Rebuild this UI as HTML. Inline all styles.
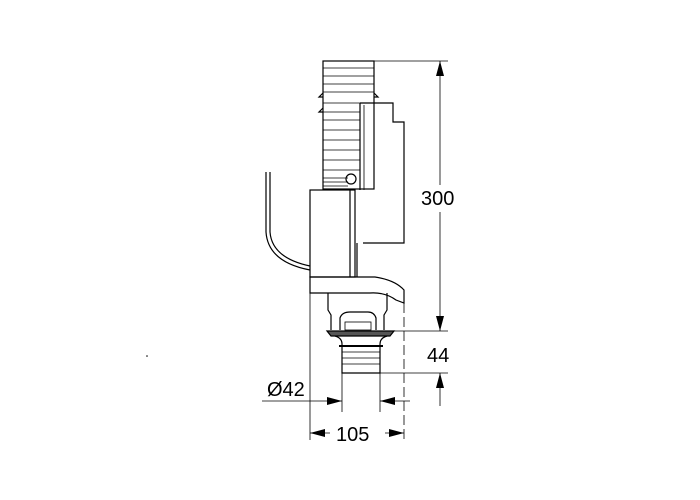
<!DOCTYPE html>
<html><head><style>body{margin:0;background:#fff}svg{display:block}</style></head><body>
<svg width="700" height="500" viewBox="0 0 700 500" xmlns="http://www.w3.org/2000/svg" font-family="Liberation Sans, sans-serif">
<g fill="none" stroke="#000" stroke-width="1.2">
<!-- top pipe -->
<rect x="323" y="61" width="51" height="128"/>
<g stroke-width="0.8">
<line x1="323" y1="68" x2="374" y2="68"/><line x1="323" y1="76" x2="374" y2="76"/><line x1="323" y1="84" x2="374" y2="84"/>
<line x1="323" y1="92" x2="374" y2="92"/><line x1="323" y1="103" x2="360" y2="103"/><line x1="323" y1="112" x2="360" y2="112"/>
<line x1="323" y1="120" x2="360" y2="120"/><line x1="323" y1="130" x2="360" y2="130"/><line x1="323" y1="140" x2="360" y2="140"/>
<line x1="323" y1="150" x2="360" y2="150"/><line x1="323" y1="160" x2="360" y2="160"/><line x1="323" y1="170" x2="360" y2="170"/>
<line x1="323" y1="178" x2="348" y2="178"/><line x1="323" y1="182" x2="348" y2="182"/><line x1="323" y1="186" x2="348" y2="186"/>
</g>
<path d="M323 93 l-4 4 h4 M374 93 l4 4 h-4 M323 108 l-4 4 h4"/>
<circle cx="351" cy="179" r="5"/>
<!-- right box -->
<path d="M360 103 H393 V122 H404 V243 H363 M360 103 V190"/>
<line x1="364" y1="105" x2="364" y2="190" stroke-width="0.8"/>
<!-- lower box -->
<rect x="310" y="190" width="45" height="87" fill="#fff"/>
<line x1="350" y1="190" x2="350" y2="277"/>
<line x1="357" y1="243" x2="357" y2="277"/>
<!-- wire -->
<path d="M266 172 V232 Q268 262 310 270 M270 172 V232 Q272 258 310 266"/>
<!-- base -->
<path d="M310 277 H375 Q395 280 404 290 V303 L396 300 Q385 292 370 293 H310 Z"/>
<!-- lower part -->
<path d="M328 293 V310 L331 315 V330 M387 293 V310 L384 315 V330"/>
<path d="M340 330 V318 Q342 312 350 312 H368 Q374 312 376 318 V330"/>
<rect x="345" y="322" width="26" height="8" stroke-width="0.8"/>
<path d="M327 331 H394 L390 336 H331 Z" fill="#555"/>
<path d="M335 336 Q342 338 342 344 V373 H380 V344 Q380 338 387 336"/>
<line x1="339" y1="346" x2="383" y2="346" stroke-width="2"/>
<g stroke-width="0.8"><line x1="342" y1="352" x2="380" y2="352"/><line x1="342" y1="358" x2="380" y2="358"/><line x1="342" y1="364" x2="380" y2="364"/></g>
</g>
<!-- dimension lines -->
<g fill="none" stroke="#000" stroke-width="0.8">
<line x1="374" y1="61" x2="448" y2="61"/>
<line x1="440" y1="61" x2="440" y2="185"/>
<line x1="440" y1="212" x2="440" y2="331"/>
<line x1="394" y1="331" x2="448" y2="331"/>
<line x1="380" y1="373" x2="448" y2="373"/>
<line x1="440" y1="373" x2="440" y2="406"/>
<line x1="310" y1="293" x2="310" y2="440"/>
<line x1="404" y1="303" x2="404" y2="440" stroke-dasharray="10,4"/>
<line x1="342" y1="373" x2="342" y2="412"/>
<line x1="380" y1="373" x2="380" y2="412"/>
<line x1="262" y1="401" x2="342" y2="401"/>
<line x1="380" y1="401" x2="410" y2="401"/>
<line x1="310" y1="433" x2="330" y2="433"/>
<line x1="385" y1="433" x2="404" y2="433"/>
</g>
<g fill="#000">
<path d="M440 61 l-4 15 h8 Z"/><path d="M440 331 l-4 -15 h8 Z"/><path d="M440 373 l-4 15 h8 Z"/>
<path d="M342 401 l-15 -4 v8 Z"/><path d="M380 401 l15 -4 v8 Z"/>
<path d="M310 433 l15 -4 v8 Z"/><path d="M404 433 l-15 -4 v8 Z"/>
<circle cx="147" cy="356" r="0.8"/>
</g>
<g font-size="20" fill="#000">
<text x="421" y="205">300</text>
<text x="427" y="362">44</text>
<text x="267" y="396">Ø42</text>
<text x="336" y="441">105</text>
</g>
</svg>
</body></html>
